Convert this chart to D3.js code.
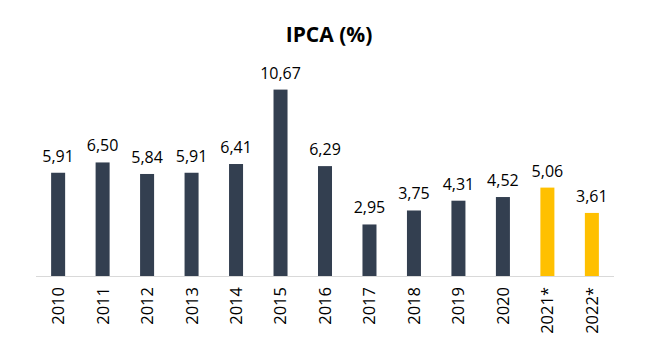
<!DOCTYPE html>
<html><head><meta charset="utf-8">
<script src="https://cdn.jsdelivr.net/npm/d3@7"></script>
<style>body{margin:0;background:#fff}text{font-family:"Open Sans","Liberation Sans",sans-serif}</style>
</head><body><svg id="c" width="658" height="352"></svg>
<script>
const categories = ["2010","2011","2012","2013","2014","2015","2016","2017","2018","2019","2020","2021*","2022*"];
const values = [5.91,6.50,5.84,5.91,6.41,10.67,6.29,2.95,3.75,4.31,4.52,5.06,3.61];
const projected = [false,false,false,false,false,false,false,false,false,false,false,true,true];
const title = "IPCA (%)";

const svg = d3.select("#c");
const x = d3.scaleBand().domain(categories).range([36,614]).paddingInner(0.685).paddingOuter(0.34);
const y = d3.scaleLinear().domain([0,12]).range([276, 276-12*17.47]);
const fmt = v => d3.format(".2f")(v).replace(".", ",");

svg.append("text").attr("x",329).attr("y",42).attr("text-anchor","middle")
  .style("font-size","21px").style("font-weight","bold").attr("fill","#000").text(title);

svg.selectAll("rect.bar").data(categories).join("rect").attr("class","bar")
  .attr("x",d=>x(d)).attr("width",x.bandwidth())
  .attr("y",(d,i)=>y(values[i])).attr("height",(d,i)=>y(0)-y(values[i]))
  .attr("fill",(d,i)=>projected[i]?"#FFC000":"#333F50");

svg.append("line").attr("x1",36).attr("x2",614).attr("y1",y(0)+0.5).attr("y2",y(0)+0.5)
  .attr("stroke","#D9D9D9").attr("stroke-width",1);

svg.selectAll("text.val").data(categories).join("text").attr("class","val")
  .attr("x",d=>x(d)+x.bandwidth()/2).attr("y",(d,i)=>y(values[i])-11)
  .attr("text-anchor","middle").style("font-size","16px").attr("fill","#000")
  .text((d,i)=>fmt(values[i]));

const ax = svg.append("g").attr("transform",`translate(0,${y(0)})`)
  .call(d3.axisBottom(x).tickSize(0).tickPadding(0));
ax.select(".domain").remove();
ax.selectAll("text").attr("transform","rotate(-90)").attr("text-anchor","end")
  .attr("x",-11).attr("y",0).attr("dy","0.36em").style("font-size","16.5px").attr("fill","#000")
  .style("font-family","'Open Sans','Liberation Sans',sans-serif");
</script></body></html>
